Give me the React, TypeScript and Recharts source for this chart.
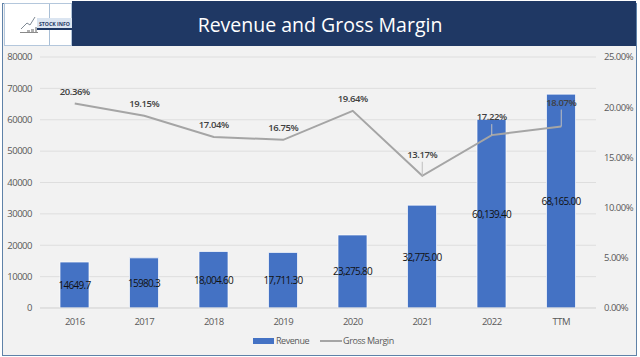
import { Bar, CartesianGrid, ComposedChart, Legend, Line, XAxis, YAxis } from 'recharts';

const categories = ['2016', '2017', '2018', '2019', '2020', '2021', '2022', 'TTM'];
const revenue = [14649.7, 15980.3, 18004.6, 17711.3, 23275.8, 32775, 60139.4, 68165];
const revenueLabels = ['14649.7', '15980.3', '18,004.60', '17,711.30', '23,275.80', '32,775.00', '60,139.40', '68,165.00'];
const grossMargin = [20.36, 19.15, 17.04, 16.75, 19.64, 13.17, 17.22, 18.07];
const revenueTicks = [0, 10000, 20000, 30000, 40000, 50000, 60000, 70000, 80000];
const marginTicks = [0, 5, 10, 15, 20, 25];

const data = categories.map((name, i) => ({
  name,
  revenue: revenue[i],
  revenueLabel: revenueLabels[i],
  grossMargin: grossMargin[i],
}));

// the last three margin labels sit further up with a leader line down to the point
const leaderGaps: Record<string, number> = { '2021': 18, '2022': 15, TTM: 21 };

const font = '"Open Sans", sans-serif';
const tickStyle = { fontSize: 9.5, fill: '#595959', fontFamily: font, letterSpacing: -0.5 };

function BarValue({ x, y, width, height, value }: any) {
  return (
    <text x={x + width / 2} y={y + height / 2 + 4} textAnchor="middle" fontSize={10} letterSpacing={-0.7} fontFamily={font} fill="#111">
      {value}
    </text>
  );
}

function MarginValue({ x, y, value, index }: any) {
  const gap = leaderGaps[categories[index]] ?? 9;
  const hasLeader = leaderGaps[categories[index]] !== undefined;
  return (
    <g>
      {hasLeader && <line x1={x} x2={x} y1={y} y2={y - gap + 4} stroke="#bfbfbf" strokeWidth={1} />}
      <text x={x} y={y - gap} textAnchor="middle" fontSize={9.5} fontWeight={600} letterSpacing={-0.45} fontFamily={font} fill="#404040">
        {value.toFixed(2)}%
      </text>
    </g>
  );
}

function ChartLegend() {
  return (
    <div style={{ display: 'flex', alignItems: 'center', fontFamily: font, fontSize: 9, color: '#595959', letterSpacing: -0.45 }}>
      <span style={{ width: 21, height: 6, background: '#4472c4', marginRight: 2 }} />
      <span style={{ marginRight: 11 }}>Revenue</span>
      <span style={{ width: 22, height: 2, background: '#a5a5a5', marginRight: 1 }} />
      <span>Gross Margin</span>
    </div>
  );
}

function Logo() {
  return (
    <div style={{ position: 'absolute', left: 4, top: 3, width: 68, height: 43, background: '#fff', boxSizing: 'border-box', border: '1px solid #b4c7dc' }}>
      <div style={{ position: 'absolute', left: 44, top: 0, width: 1, height: 41, background: '#a9bfd6' }} />
      <svg width={68} height={43} style={{ position: 'absolute', left: -1, top: -1 }}>
        <polyline points="17,26 23,20 26,22 31,14" fill="none" stroke="#7f8a95" strokeWidth={1} />
        <rect x={23} y={27} width={3} height={3} fill="#b0b0b0" />
        <rect x={27} y={26} width={3} height={4} fill="#b0b0b0" />
        <rect x={31} y={24} width={2} height={6} fill="#b0b0b0" />
        <rect x={16} y={29} width={18} height={1} fill="#8a8a8a" />
        <rect x={33} y={15} width={35} height={10} fill="#dbe5f1" />
        <rect x={33} y={25} width={35} height={2} fill="#1f3864" />
        <text x={50.5} y={22.5} textAnchor="middle" fontSize={5.2} fontWeight={700} fontFamily={font} fill="#1f3864">
          STOCK INFO
        </text>
      </svg>
    </div>
  );
}

export default function App() {
  return (
    <div style={{ position: 'absolute', left: 0, top: 0, width: 640, height: 357, background: '#fff', overflow: 'hidden' }}>
      <div style={{ position: 'absolute', left: 2, top: 3, width: 635, height: 353, boxSizing: 'border-box', background: '#f2f2f2', border: '1px solid #5f82a8' }} />
      <div style={{ position: 'absolute', left: 0, top: 0 }}>
        <ComposedChart width={640} height={357} data={data} margin={{ top: 57, right: 0, bottom: 8, left: 0 }}>
          <CartesianGrid vertical={false} stroke="#dedede" strokeWidth={1} yAxisId="left" />
          <XAxis dataKey="name" height={27} tickLine={false} axisLine={{ stroke: '#d9d9d9' }} tickMargin={4} tick={tickStyle} interval={0} />
          <YAxis yAxisId="left" domain={[0, 80000]} ticks={revenueTicks} width={40} tickLine={false} axisLine={false} tickMargin={2} tick={tickStyle} />
          <YAxis yAxisId="right" orientation="right" domain={[0, 25]} ticks={marginTicks} width={44} tickLine={false} axisLine={false} tickMargin={2} tickFormatter={(v) => `${v.toFixed(2)}%`} tick={tickStyle} />
          <Bar yAxisId="left" dataKey="revenue" name="Revenue" fill="#4472c4" stroke="#ffffff" strokeOpacity={0.7} barSize={29} isAnimationActive={false} label={(p: any) => <BarValue {...p} value={revenueLabels[p.index]} />} />
          <Line yAxisId="right" dataKey="grossMargin" name="Gross Margin" type="linear" stroke="#a5a5a5" strokeWidth={2} dot={false} isAnimationActive={false} label={(p: any) => <MarginValue {...p} />} />
          <Legend content={<ChartLegend />} wrapperStyle={{ position: 'absolute', left: 253, top: 334, width: 160, height: 14 }} />
        </ComposedChart>
      </div>
      <div style={{ position: 'absolute', left: 72, top: 1, width: 564, height: 45, background: '#1f3864' }} />
      <div style={{ position: 'absolute', left: 0, top: 1, width: 640, color: '#fff', fontFamily: font, fontSize: 19.5, lineHeight: '47px', textAlign: 'center' }}>
        Revenue and Gross Margin
      </div>
      <Logo />
    </div>
  );
}
